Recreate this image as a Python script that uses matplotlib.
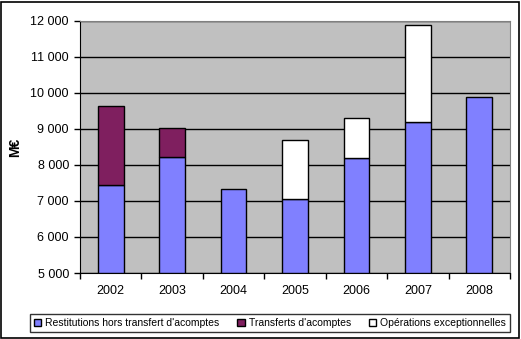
import numpy as np
import matplotlib.pyplot as plt
from matplotlib.patches import Rectangle
from matplotlib.ticker import FuncFormatter

plt.rcParams['font.family'] = ['Liberation Sans', 'DejaVu Sans']

years = ['2002', '2003', '2004', '2005', '2006', '2007', '2008']
restitutions = [7440, 8210, 7325, 7065, 8185, 9185, 9880]
transferts = [2190, 810, 0, 0, 0, 0, 0]
exceptionnelles = [0, 0, 0, 1620, 1110, 2695, 0]

labels = ["Restitutions hors transfert d'acomptes",
          "Transferts d'acomptes",
          "Opérations exceptionnelles"]
colors = ['#8080ff', '#7f1f5f', '#ffffff']

fig = plt.figure(figsize=(5.21, 3.39), dpi=100)
ax = fig.add_axes([80/521, 66/339, 430/521, 252/339])
ax.set_facecolor('#c0c0c0')

x = np.arange(len(years))
w = 0.42
base = 5000
r = np.array(restitutions)
t = np.array(transferts)
e = np.array(exceptionnelles)

# skip empty segments so they don't draw a doubled edge on top
mt = t > 0
me = e > 0
ax.bar(x, r - base, w, bottom=base, color=colors[0], edgecolor='black', linewidth=1, zorder=3, label=labels[0])
ax.bar(x[mt], t[mt], w, bottom=r[mt], color=colors[1], edgecolor='black', linewidth=1, zorder=3, label=labels[1])
ax.bar(x[me], e[me], w, bottom=(r + t)[me], color=colors[2], edgecolor='black', linewidth=1, zorder=3, label=labels[2])

ax.set_ylim(5000, 12000)
ax.set_xlim(-0.5, len(years) - 0.5)
ax.set_yticks(np.arange(5000, 12001, 1000))
ax.yaxis.set_major_formatter(FuncFormatter(lambda v, p: f'{int(v):,}'.replace(',', ' ')))
ax.yaxis.grid(True, color='black', linewidth=1)
ax.set_axisbelow(True)

ax.set_xticks(x)
ax.set_xticklabels(years)
ax.set_xticks(np.arange(-0.5, len(years), 1), minor=True)
ax.tick_params(axis='x', which='major', length=0, pad=9, labelsize=9)
ax.tick_params(axis='x', which='minor', length=4, direction='out', width=1)
ax.tick_params(axis='y', length=4, direction='out', width=1, labelsize=9, pad=4)

for s in ['top', 'right']:
    ax.spines[s].set_color('#808080')
for s in ['left', 'bottom']:
    ax.spines[s].set_color('black')

ax.set_ylabel('M€', fontsize=10, fontweight='bold', labelpad=6)

leg = fig.legend(loc='center', bbox_to_anchor=(270/521, 1 - 323/339), ncol=3,
                 fontsize=7.5, frameon=True, fancybox=False, edgecolor='black',
                 handlelength=0.7, handleheight=0.7, handletextpad=0.4,
                 columnspacing=1.7, borderpad=0.35)
leg.get_frame().set_linewidth(1)

fig.patches.append(Rectangle((1/521, 1/339), 518/521, 336/339, transform=fig.transFigure,
                             fill=False, edgecolor='black', linewidth=1.2))

fig.savefig('out.png', dpi=100)
